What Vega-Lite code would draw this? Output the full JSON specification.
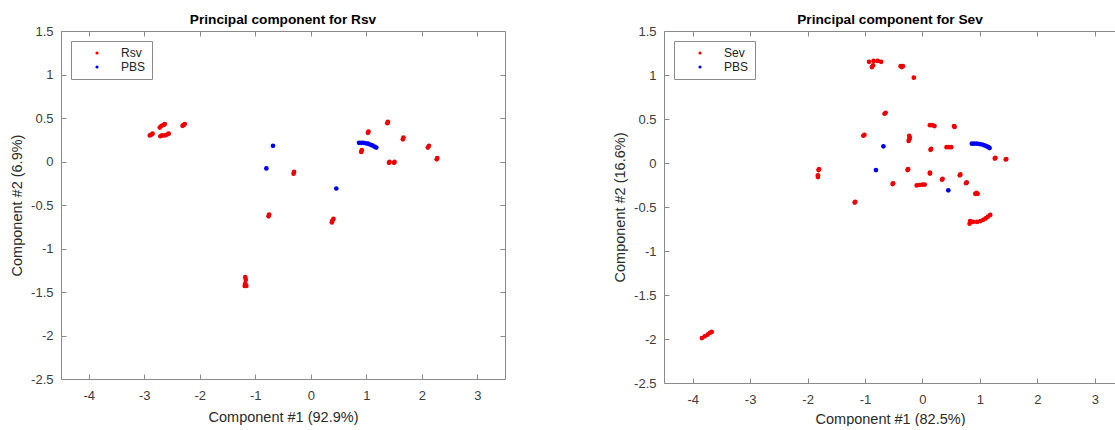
{
  "$schema": "https://vega.github.io/schema/vega-lite/v6.json",
  "padding": {"left": 9, "top": 13, "right": 0, "bottom": 0},
  "background": "white",
  "spacing": 106,
  "config": {
    "view": {"stroke": null},
    "font": "Liberation Sans",
    "axis": {"grid": false, "domainColor": "#8a8a8a", "tickColor": "#8a8a8a", "tickSize": -5, "domainWidth": 1, "tickWidth": 1,
      "labelFont": "Liberation Sans", "labelFontSize": 13, "labelColor": "#3c3c3c",
      "titleFont": "Liberation Sans", "titleFontSize": 14.5, "titleFontWeight": "normal", "titleColor": "#2a2a2a"},
    "title": {"font": "Liberation Sans", "fontSize": 13.7, "fontWeight": "bold", "color": "#000000", "offset": -2},
    "legend": {"orient": "top-left", "offset": 10, "padding": 6, "strokeColor": "#8a8a8a", "fillColor": "white",
      "symbolType": "circle", "symbolSize": 10, "symbolStrokeWidth": 0, "symbolOffset": 14, "labelOffset": 18,
      "labelFont": "Liberation Sans", "labelFontSize": 12, "labelColor": "#222222", "rowPadding": 2}
  },
  "datasets": {
    "rsv": [
      {"x": -2.90, "y": 0.30, "g": "Rsv"}, {"x": -2.87, "y": 0.31, "g": "Rsv"}, {"x": -2.85, "y": 0.32, "g": "Rsv"},
      {"x": -2.72, "y": 0.39, "g": "Rsv"}, {"x": -2.69, "y": 0.41, "g": "Rsv"}, {"x": -2.65, "y": 0.42, "g": "Rsv"}, {"x": -2.63, "y": 0.43, "g": "Rsv"},
      {"x": -2.71, "y": 0.29, "g": "Rsv"}, {"x": -2.68, "y": 0.30, "g": "Rsv"}, {"x": -2.63, "y": 0.30, "g": "Rsv"}, {"x": -2.59, "y": 0.31, "g": "Rsv"}, {"x": -2.56, "y": 0.32, "g": "Rsv"},
      {"x": -2.31, "y": 0.41, "g": "Rsv"}, {"x": -2.29, "y": 0.42, "g": "Rsv"}, {"x": -2.27, "y": 0.43, "g": "Rsv"},
      {"x": 1.03, "y": 0.33, "g": "Rsv"}, {"x": 1.04, "y": 0.345, "g": "Rsv"},
      {"x": 0.91, "y": 0.11, "g": "Rsv"}, {"x": 0.92, "y": 0.13, "g": "Rsv"},
      {"x": 1.38, "y": 0.44, "g": "Rsv"}, {"x": 1.39, "y": 0.455, "g": "Rsv"},
      {"x": 1.41, "y": -0.015, "g": "Rsv"}, {"x": 1.42, "y": -0.005, "g": "Rsv"},
      {"x": 1.50, "y": -0.015, "g": "Rsv"}, {"x": 1.51, "y": -0.005, "g": "Rsv"},
      {"x": 1.66, "y": 0.255, "g": "Rsv"}, {"x": 1.67, "y": 0.275, "g": "Rsv"},
      {"x": 2.11, "y": 0.16, "g": "Rsv"}, {"x": 2.13, "y": 0.18, "g": "Rsv"},
      {"x": 2.27, "y": 0.025, "g": "Rsv"}, {"x": 2.28, "y": 0.04, "g": "Rsv"},
      {"x": -0.31, "y": -0.14, "g": "Rsv"}, {"x": -0.30, "y": -0.12, "g": "Rsv"},
      {"x": -0.76, "y": -0.63, "g": "Rsv"}, {"x": -0.75, "y": -0.61, "g": "Rsv"},
      {"x": 0.38, "y": -0.70, "g": "Rsv"}, {"x": 0.39, "y": -0.68, "g": "Rsv"}, {"x": 0.41, "y": -0.66, "g": "Rsv"},
      {"x": -1.19, "y": -1.43, "g": "Rsv"}, {"x": -1.18, "y": -1.40, "g": "Rsv"}, {"x": -1.17, "y": -1.36, "g": "Rsv"}, {"x": -1.18, "y": -1.33, "g": "Rsv"}, {"x": -1.16, "y": -1.43, "g": "Rsv"},
      {"x": -0.68, "y": 0.18, "g": "PBS"}, {"x": -0.80, "y": -0.08, "g": "PBS"}, {"x": 0.46, "y": -0.31, "g": "PBS"},
      {"x": 0.87, "y": 0.215, "g": "PBS"}, {"x": 0.91, "y": 0.215, "g": "PBS"}, {"x": 0.95, "y": 0.215, "g": "PBS"}, {"x": 0.99, "y": 0.21, "g": "PBS"},
      {"x": 1.03, "y": 0.205, "g": "PBS"}, {"x": 1.07, "y": 0.195, "g": "PBS"}, {"x": 1.11, "y": 0.185, "g": "PBS"}, {"x": 1.15, "y": 0.17, "g": "PBS"}, {"x": 1.18, "y": 0.16, "g": "PBS"}
    ],
    "sev": [
      {"x": -0.93, "y": 1.15, "g": "Sev"}, {"x": -0.85, "y": 1.16, "g": "Sev"}, {"x": -0.78, "y": 1.16, "g": "Sev"}, {"x": -0.72, "y": 1.15, "g": "Sev"},
      {"x": -0.88, "y": 1.09, "g": "Sev"}, {"x": -0.86, "y": 1.11, "g": "Sev"},
      {"x": -0.38, "y": 1.10, "g": "Sev"}, {"x": -0.36, "y": 1.09, "g": "Sev"}, {"x": -0.34, "y": 1.10, "g": "Sev"},
      {"x": -0.15, "y": 0.97, "g": "Sev"},
      {"x": -0.66, "y": 0.56, "g": "Sev"}, {"x": -0.64, "y": 0.57, "g": "Sev"},
      {"x": -1.03, "y": 0.31, "g": "Sev"}, {"x": -1.01, "y": 0.32, "g": "Sev"},
      {"x": -0.23, "y": 0.31, "g": "Sev"}, {"x": -0.22, "y": 0.29, "g": "Sev"}, {"x": -0.23, "y": 0.27, "g": "Sev"}, {"x": -0.24, "y": 0.25, "g": "Sev"},
      {"x": 0.13, "y": 0.43, "g": "Sev"}, {"x": 0.17, "y": 0.43, "g": "Sev"}, {"x": 0.21, "y": 0.42, "g": "Sev"},
      {"x": 0.55, "y": 0.42, "g": "Sev"}, {"x": 0.56, "y": 0.41, "g": "Sev"},
      {"x": 0.14, "y": 0.15, "g": "Sev"}, {"x": 0.15, "y": 0.16, "g": "Sev"},
      {"x": 0.42, "y": 0.18, "g": "Sev"}, {"x": 0.46, "y": 0.18, "g": "Sev"}, {"x": 0.50, "y": 0.18, "g": "Sev"},
      {"x": 1.26, "y": 0.05, "g": "Sev"}, {"x": 1.27, "y": 0.06, "g": "Sev"},
      {"x": 1.45, "y": 0.04, "g": "Sev"}, {"x": 1.46, "y": 0.045, "g": "Sev"},
      {"x": -1.81, "y": -0.08, "g": "Sev"}, {"x": -1.80, "y": -0.07, "g": "Sev"},
      {"x": -1.82, "y": -0.16, "g": "Sev"}, {"x": -1.82, "y": -0.14, "g": "Sev"},
      {"x": -0.26, "y": -0.08, "g": "Sev"}, {"x": -0.25, "y": -0.07, "g": "Sev"},
      {"x": 0.13, "y": -0.12, "g": "Sev"}, {"x": 0.13, "y": -0.11, "g": "Sev"},
      {"x": -0.52, "y": -0.24, "g": "Sev"}, {"x": -0.51, "y": -0.23, "g": "Sev"},
      {"x": -0.10, "y": -0.255, "g": "Sev"}, {"x": -0.05, "y": -0.25, "g": "Sev"}, {"x": 0.00, "y": -0.245, "g": "Sev"}, {"x": 0.04, "y": -0.245, "g": "Sev"},
      {"x": 0.34, "y": -0.19, "g": "Sev"}, {"x": 0.35, "y": -0.18, "g": "Sev"},
      {"x": 0.65, "y": -0.14, "g": "Sev"}, {"x": 0.66, "y": -0.13, "g": "Sev"},
      {"x": 0.76, "y": -0.23, "g": "Sev"}, {"x": 0.77, "y": -0.22, "g": "Sev"},
      {"x": 0.92, "y": -0.35, "g": "Sev"}, {"x": 0.94, "y": -0.34, "g": "Sev"}, {"x": 0.96, "y": -0.35, "g": "Sev"},
      {"x": -1.18, "y": -0.45, "g": "Sev"}, {"x": -1.17, "y": -0.44, "g": "Sev"},
      {"x": 0.82, "y": -0.69, "g": "Sev"}, {"x": 0.83, "y": -0.66, "g": "Sev"}, {"x": 0.88, "y": -0.67, "g": "Sev"}, {"x": 0.95, "y": -0.67, "g": "Sev"},
      {"x": 1.01, "y": -0.66, "g": "Sev"}, {"x": 1.06, "y": -0.645, "g": "Sev"}, {"x": 1.10, "y": -0.63, "g": "Sev"}, {"x": 1.14, "y": -0.61, "g": "Sev"}, {"x": 1.18, "y": -0.59, "g": "Sev"},
      {"x": -3.84, "y": -1.99, "g": "Sev"}, {"x": -3.79, "y": -1.97, "g": "Sev"}, {"x": -3.74, "y": -1.95, "g": "Sev"}, {"x": -3.70, "y": -1.93, "g": "Sev"}, {"x": -3.67, "y": -1.92, "g": "Sev"},
      {"x": -0.68, "y": 0.19, "g": "PBS"}, {"x": -0.81, "y": -0.08, "g": "PBS"}, {"x": 0.45, "y": -0.31, "g": "PBS"},
      {"x": 0.86, "y": 0.22, "g": "PBS"}, {"x": 0.90, "y": 0.22, "g": "PBS"}, {"x": 0.95, "y": 0.22, "g": "PBS"}, {"x": 1.00, "y": 0.215, "g": "PBS"},
      {"x": 1.04, "y": 0.21, "g": "PBS"}, {"x": 1.08, "y": 0.20, "g": "PBS"}, {"x": 1.12, "y": 0.19, "g": "PBS"}, {"x": 1.15, "y": 0.18, "g": "PBS"}, {"x": 1.17, "y": 0.17, "g": "PBS"}
    ]
  },
  "hconcat": [
    {
      "title": "Principal component for Rsv",
      "width": 444,
      "height": 348,
      "data": {"name": "rsv"},
      "layer": [
        {
          "mark": {"type": "point", "filled": true, "shape": "circle", "size": 22, "opacity": 1},
          "encoding": {
            "x": {"field": "x", "type": "quantitative", "scale": {"domain": [-4.5, 3.5], "nice": false, "zero": false},
              "axis": {"orient": "bottom", "values": [-4, -3, -2, -1, 0, 1, 2, 3], "title": "Component #1 (92.9%)", "labelPadding": 15, "titlePadding": 8,
                "labelExpr": "(datum.value < 0 ? '-' : '') + toString(abs(datum.value))"}},
            "y": {"field": "y", "type": "quantitative", "scale": {"domain": [-2.5, 1.5], "nice": false, "zero": false},
              "axis": {"orient": "left", "values": [-2.5, -2, -1.5, -1, -0.5, 0, 0.5, 1, 1.5], "title": "Component #2 (6.9%)", "labelPadding": 13, "titlePadding": 6,
                "labelExpr": "(datum.value < 0 ? '-' : '') + toString(abs(datum.value))"}},
            "color": {"field": "g", "type": "nominal", "scale": {"domain": ["Rsv", "PBS"], "range": ["#f00000", "#0000f0"]}, "legend": {"title": null}}
          }
        },
        {
          "mark": {"type": "point", "opacity": 0},
          "encoding": {
            "x": {"field": "x", "type": "quantitative", "axis": {"orient": "top", "values": [-4, -3, -2, -1, 0, 1, 2, 3], "labels": false, "title": null}},
            "y": {"field": "y", "type": "quantitative", "axis": {"orient": "right", "values": [-2.5, -2, -1.5, -1, -0.5, 0, 0.5, 1, 1.5], "labels": false, "title": null}}
          }
        }
      ],
      "resolve": {"axis": {"x": "independent", "y": "independent"}}
    },
    {
      "title": "Principal component for Sev",
      "width": 452,
      "height": 352,
      "data": {"name": "sev"},
      "layer": [
        {
          "mark": {"type": "point", "filled": true, "shape": "circle", "size": 22, "opacity": 1},
          "encoding": {
            "x": {"field": "x", "type": "quantitative", "scale": {"domain": [-4.5, 3.37], "nice": false, "zero": false},
              "axis": {"orient": "bottom", "values": [-4, -3, -2, -1, 0, 1, 2, 3], "title": "Component #1 (82.5%)", "labelPadding": 15, "titlePadding": 6,
                "labelExpr": "(datum.value < 0 ? '-' : '') + toString(abs(datum.value))"}},
            "y": {"field": "y", "type": "quantitative", "scale": {"domain": [-2.5, 1.5], "nice": false, "zero": false},
              "axis": {"orient": "left", "values": [-2.5, -2, -1.5, -1, -0.5, 0, 0.5, 1, 1.5], "title": "Component #2 (16.6%)", "labelPadding": 13, "titlePadding": 6,
                "labelExpr": "(datum.value < 0 ? '-' : '') + toString(abs(datum.value))"}},
            "color": {"field": "g", "type": "nominal", "scale": {"domain": ["Sev", "PBS"], "range": ["#f00000", "#0000f0"]}, "legend": {"title": null}}
          }
        },
        {
          "mark": {"type": "point", "opacity": 0},
          "encoding": {
            "x": {"field": "x", "type": "quantitative", "axis": {"orient": "top", "values": [-4, -3, -2, -1, 0, 1, 2, 3], "labels": false, "title": null}}
          }
        }
      ],
      "resolve": {"axis": {"x": "independent"}}
    }
  ],
  "resolve": {"scale": {"x": "independent", "y": "independent", "color": "independent"}, "legend": {"color": "independent"}}
}
